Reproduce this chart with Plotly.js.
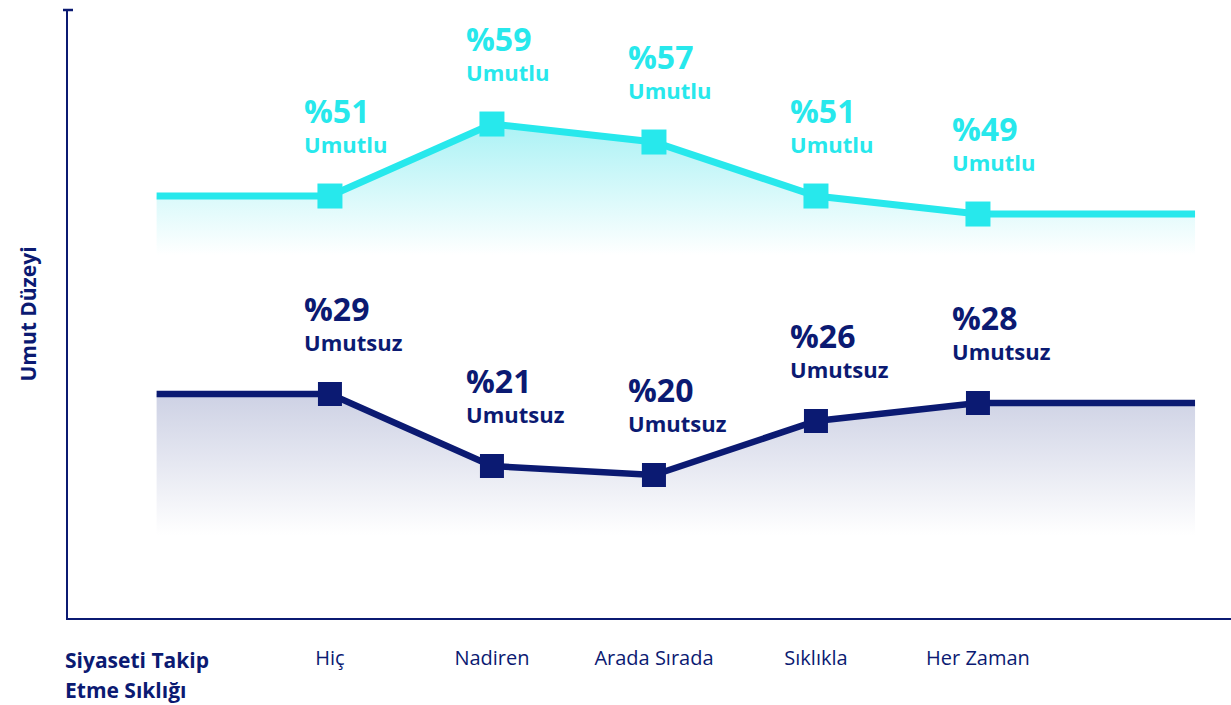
<!DOCTYPE html>
<html><head><meta charset="utf-8">
<script src="https://cdn.plot.ly/plotly-3.0.1.min.js"></script>
<style>html,body{margin:0;padding:0;background:#fff;}</style>
</head><body><div id="chart" style="width:1231px;height:705px;"></div>
<script>
const categories = ['Hiç', 'Nadiren', 'Arada Sırada', 'Sıklıkla', 'Her Zaman'];
const hopeful = [51, 59, 57, 51, 49];
const hopeless = [29, 21, 20, 26, 28];
const hopefulLabel = 'Umutlu';
const hopelessLabel = 'Umutsuz';
const yTitle = 'Umut Düzeyi';
const xTitleLines = ['Siyaseti Takip', 'Etme Sıklığı'];

const CYAN = '#27E8EC', NAVY = '#0B1A72';
const FONT = 'Open Sans, Lato, sans-serif';
const catX = categories.map((_, i) => i);
const xLeft = -1.07, xRight = 5.34;
const extX = [xLeft, ...catX, xRight];
const ext = arr => [arr[0], ...arr, arr[arr.length - 1]];
const fillFloor = 13.3;

const traces = [
  {x: extX, y: extX.map(() => fillFloor), mode: 'lines', line: {width: 0}, hoverinfo: 'skip', showlegend: false},
  {x: extX, y: ext(hopeless), mode: 'lines', line: {width: 0}, fill: 'tonexty', hoverinfo: 'skip',
   fillgradient: {type: 'vertical', start: fillFloor, stop: Math.max(...hopeless),
     colorscale: [[0, '#FFFFFF'], [1, '#CDD1E4']]}},
  {x: extX, y: ext(hopeful), mode: 'lines', line: {width: 0}, fill: 'tonexty', hoverinfo: 'skip',
   fillgradient: {type: 'vertical', start: 44.4, stop: Math.max(...hopeful),
     colorscale: [[0, '#FFFFFF'], [1, '#ABF2F5']]}},
  {x: extX, y: ext(hopeful), mode: 'lines', line: {color: CYAN, width: 7}, hoverinfo: 'skip'},
  {x: catX, y: hopeful, mode: 'markers', marker: {symbol: 'square', size: 25, color: CYAN}},
  {x: extX, y: ext(hopeless), mode: 'lines', line: {color: NAVY, width: 6.5}, hoverinfo: 'skip'},
  {x: catX, y: hopeless, mode: 'markers', marker: {symbol: 'square', size: 24, color: NAVY}}
];

const annotations = [];
function addLabels(vals, word, color) {
  vals.forEach((v, i) => {
    annotations.push({x: i, y: v, xref: 'x', yref: 'y', text: '%' + v, showarrow: false,
      xanchor: 'left', yanchor: 'middle', xshift: -28, yshift: 86,
      font: {family: FONT, size: 32, weight: 700, color: color}});
    annotations.push({x: i, y: v, xref: 'x', yref: 'y', text: word, showarrow: false,
      xanchor: 'left', yanchor: 'middle', xshift: -28, yshift: 52,
      font: {family: FONT, size: 22, weight: 700, color: color}});
  });
}
addLabels(hopeful, hopefulLabel, CYAN);
addLabels(hopeless, hopelessLabel, NAVY);
xTitleLines.forEach((t, k) => {
  annotations.push({xref: 'paper', yref: 'paper', x: -5 / 1163, y: -(42 + 30 * k) / 608,
    xanchor: 'left', yanchor: 'middle', align: 'left', text: t, showarrow: false,
    font: {family: FONT, size: 21, weight: 700, color: NAVY}});
});

const layout = {
  width: 1231, height: 705,
  margin: {l: 68, r: 0, t: 10, b: 87},
  paper_bgcolor: '#ffffff', plot_bgcolor: '#ffffff',
  showlegend: false,
  font: {family: FONT, color: NAVY},
  xaxis: {range: [-1.617, 5.562], tickvals: catX, ticktext: categories, showgrid: false, zeroline: false,
    showline: true, linecolor: NAVY, linewidth: 2, ticks: '', ticklabelstandoff: 21,
    tickfont: {family: FONT, size: 20, color: NAVY}, fixedrange: true},
  yaxis: {range: [4.11, 71.67], showticklabels: false, showgrid: false, zeroline: false,
    showline: true, linecolor: NAVY, linewidth: 2, ticks: '',
    title: {text: yTitle, standoff: 24, font: {family: FONT, size: 21, weight: 700, color: NAVY}}, fixedrange: true},
  shapes: [{type: 'line', xref: 'paper', yref: 'paper', x0: -5 / 1163, x1: 5 / 1163, y0: 1, y1: 1,
    line: {color: NAVY, width: 2.5}}],
  annotations: annotations
};

Plotly.newPlot('chart', traces, layout, {displayModeBar: false, staticPlot: true});
</script></body></html>
